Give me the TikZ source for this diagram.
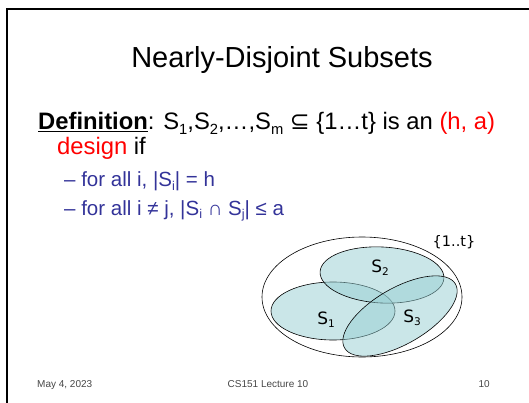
\documentclass[tikz,border=0pt]{standalone}
\usepackage{fontspec}
\setmainfont{Liberation Sans}
\newfontfamily\labelfont{DejaVu Sans}
\definecolor{defred}{RGB}{255,0,0}
\definecolor{itemblue}{RGB}{51,51,153}
\definecolor{footgray}{RGB}{70,70,70}
\definecolor{setcyan}{RGB}{150,206,210}
\newcommand{\sbs}[1]{\raisebox{-0.18em}{\scalebox{0.62}{#1}}}
\tikzset{
  txt/.style={inner sep=0pt, anchor=base west},
  setfill/.style={fill=setcyan, fill opacity=0.5, draw=black, semithick},
  setlabel/.style={inner sep=0pt, font=\labelfont\fontsize{17}{19}\selectfont}
}
\begin{document}
\begin{tikzpicture}[x=1pt,y=-1pt]
			\useasboundingbox (0,0) rectangle (529,403);
			% slide frame
			\draw[line width=2.5pt] (7,403) -- (7,9) -- (529,9);

			% title and definition
			\node[inner sep=0pt, anchor=base, font=\fontsize{29}{34}\selectfont] (title) at (282,68) {Nearly-Disjoint Subsets};
			\begin{scope}[font=\fontsize{23.8}{27}\selectfont]
				\node[txt] (def) at (38,130) {\underline{\textbf{Definition}}: S\sbs{1},S\sbs{2},\ldots,S\sbs{m} {\labelfont ⊆} \{1\ldots t\} is an \textcolor{defred}{(h, a)}};
				\node[txt] (design) at (57,155) {\textcolor{defred}{design} if};
			\end{scope}
			\begin{scope}[font=\fontsize{20.5}{24}\selectfont, text=itemblue]
				\node[txt] (cond1) at (64,187) {– for all i, |S\sbs{i}| = h};
				\node[txt] (cond2) at (64,215) {– for all i ≠ j, |S\sbs{i} ∩ S\sbs{j}| ≤ a};
			\end{scope}

			% sets inside {1..t}
			\draw[semithick] (362,297) ellipse [x radius=100pt, y radius=60pt];
			\draw[setfill] (333,311) ellipse [x radius=62pt, y radius=29pt];
			\draw[setfill, rotate around={-3:(382,275)}] (382,275) ellipse [x radius=62pt, y radius=28pt];
			\draw[setfill, rotate around={30:(400,316)}] (400,316) ellipse [x radius=64pt, y radius=28pt];
			\node[setlabel] (s2) at (380,268) {S\sbs{2}};
			\node[setlabel] (s1) at (326,320) {S\sbs{1}};
			\node[setlabel] (s3) at (412,318) {S\sbs{3}};
			\node[setlabel, font=\labelfont\fontsize{14.5}{16}\selectfont] (univ) at (454,242) {\{1..t\}};

			% footer
			\begin{scope}[font=\fontsize{10}{12}\selectfont, text=footgray]
				\node[txt] (date) at (37,387) {May 4, 2023};
				\node[inner sep=0pt, anchor=base] (course) at (268,387) {CS151 Lecture 10};
				\node[inner sep=0pt, anchor=base east] (page) at (490,387) {10};
			\end{scope}
		\end{tikzpicture}
\end{document}
